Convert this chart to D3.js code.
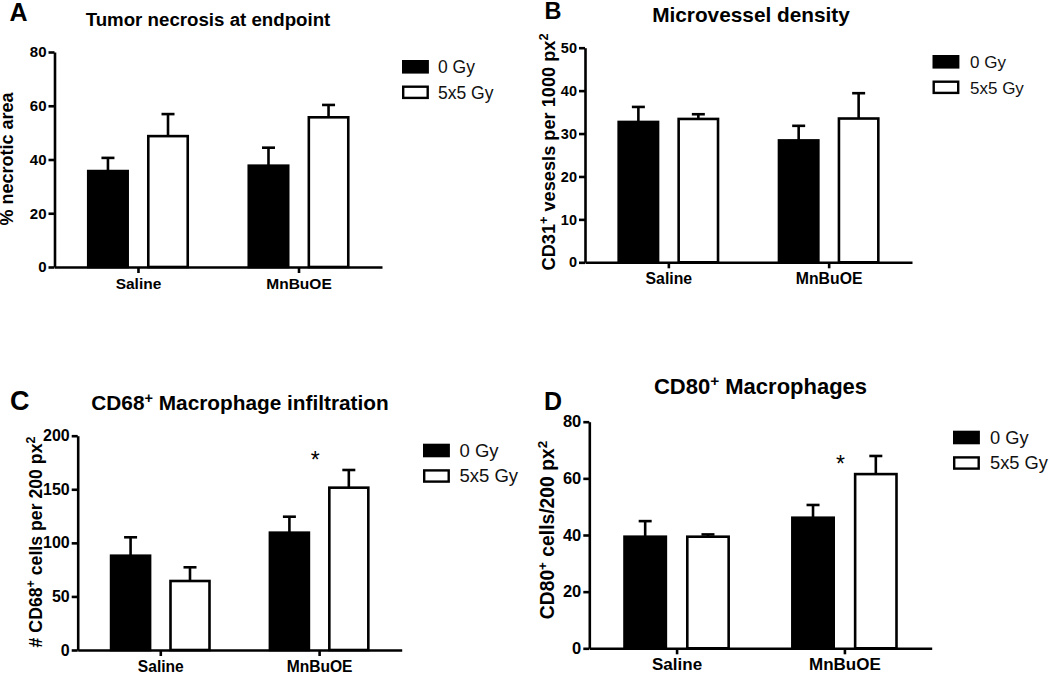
<!DOCTYPE html>
<html>
<head>
<meta charset="utf-8">
<script src="https://cdn.jsdelivr.net/npm/d3@7"></script>
<style>
  html, body { margin: 0; padding: 0; background: #fff; }
  svg { display: block; font-family: "Liberation Sans", Arial, sans-serif; }
</style>
</head>
<body>
<svg id="chart" width="1050" height="673"></svg>
<script>
// ---- Data ----
const groups = ["Saline", "MnBuOE"];
const series = ["0 Gy", "5x5 Gy"];

// Panel A: Tumor necrosis at endpoint (% necrotic area)
const necrosisMean0Gy = [35.7, 37.7];
const necrosisErr0Gy = [4.9, 6.7];
const necrosisMean5x5 = [48.7, 55.7];
const necrosisErr5x5 = [8.2, 4.6];
const necrosisTicks = [0, 20, 40, 60, 80];

// Panel B: Microvessel density
const vesselMean0Gy = [32.7, 28.4];
const vesselErr0Gy = [3.5, 3.4];
const vesselMean5x5 = [33.4, 33.5];
const vesselErr5x5 = [1.1, 5.9];
const vesselTicks = [0, 10, 20, 30, 40, 50];

// Panel C: CD68+ macrophage infiltration
const cd68Mean0Gy = [88, 109.5];
const cd68Err0Gy = [17.2, 14.9];
const cd68Mean5x5 = [64.4, 151.5];
const cd68Err5x5 = [12.8, 16.5];
const cd68Ticks = [0, 50, 100, 150, 200];
const cd68Star = [{ group: "MnBuOE", value: 182 }];

// Panel D: CD80+ macrophages
const cd80Mean0Gy = [39.4, 46.1];
const cd80Err0Gy = [5.5, 4.5];
const cd80Mean5x5 = [39.4, 61.5];
const cd80Err5x5 = [0.8, 6.4];
const cd80Ticks = [0, 20, 40, 60, 80];
const cd80Star = [{ group: "MnBuOE", value: 67 }];

function rows(m0, e0, m5, e5) {
  const out = [];
  groups.forEach((g, i) => {
    out.push({ group: g, series: series[0], mean: m0[i], err: e0[i] });
    out.push({ group: g, series: series[1], mean: m5[i], err: e5[i] });
  });
  return out;
}

const panels = [
  {
    letter: "A", letterX: 9.5, letterY: 20.5, letterSize: 25,
    title: [{ t: "Tumor necrosis at endpoint" }], titleX: 208, titleY: 26, titleSize: 18.7,
    ylabel: [{ t: "% necrotic area" }], ylabelX: 13, ylabelY: 159, ylabelSize: 18,
    tickSize: 15, xlabSize: 15.5, legendSize: 17.5,
    left: 54.5, right: 382, top: 52, bottom: 267,
    ticks: necrosisTicks, data: rows(necrosisMean0Gy, necrosisErr0Gy, necrosisMean5x5, necrosisErr5x5),
    legendX: 402, legendY: 60, legendTextX: 438, stars: []
  },
  {
    letter: "B", letterX: 544.5, letterY: 18.5, letterSize: 23.5,
    title: [{ t: "Microvessel density" }], titleX: 751, titleY: 21.5, titleSize: 20.8,
    ylabel: [{ t: "CD31" }, { t: "+", sup: true }, { t: " vesesls per 1000 px" }, { t: "2", sup: true }],
    ylabelX: 554.5, ylabelY: 152, ylabelSize: 18.2,
    tickSize: 14.5, xlabSize: 15.8, legendSize: 17,
    left: 585, right: 912, top: 47.7, bottom: 262.3,
    ticks: vesselTicks, data: rows(vesselMean0Gy, vesselErr0Gy, vesselMean5x5, vesselErr5x5),
    legendX: 932.5, legendY: 55, legendTextX: 970, stars: []
  },
  {
    letter: "C", letterX: 10, letterY: 410, letterSize: 27,
    title: [{ t: "CD68" }, { t: "+", sup: true }, { t: " Macrophage infiltration" }], titleX: 240, titleY: 410, titleSize: 20.8,
    ylabel: [{ t: "# CD68" }, { t: "+", sup: true }, { t: " cells per 200 px" }, { t: "2", sup: true }],
    ylabelX: 41.5, ylabelY: 542, ylabelSize: 17.7,
    tickSize: 16, xlabSize: 15.6, legendSize: 18.5,
    left: 77.7, right: 401.7, top: 435.7, bottom: 650,
    ticks: cd68Ticks, data: rows(cd68Mean0Gy, cd68Err0Gy, cd68Mean5x5, cd68Err5x5),
    legendX: 423, legendY: 443.7, legendTextX: 459.5, stars: cd68Star
  },
  {
    letter: "D", letterX: 544, letterY: 410, letterSize: 25,
    title: [{ t: "CD80" }, { t: "+", sup: true }, { t: " Macrophages" }], titleX: 760.5, titleY: 394, titleSize: 22,
    ylabel: [{ t: "CD80" }, { t: "+", sup: true }, { t: " cells/200 px" }, { t: "2", sup: true }],
    ylabelX: 553.5, ylabelY: 530, ylabelSize: 19.3,
    tickSize: 16.5, xlabSize: 17, legendSize: 18.3,
    left: 589.3, right: 931.7, top: 421.7, bottom: 648.3,
    ticks: cd80Ticks, data: rows(cd80Mean0Gy, cd80Err0Gy, cd80Mean5x5, cd80Err5x5),
    legendX: 953, legendY: 430.7, legendTextX: 990, stars: cd80Star
  }
];

const svg = d3.select("#chart");
const SW = 2.6;
const FONT = "Liberation Sans, Arial, sans-serif";

function addRich(textSel, parts) {
  parts.forEach((p, i) => {
    const prevSup = i > 0 && parts[i - 1].sup;
    const ts = textSel.append("tspan").text(p.t);
    if (p.sup) ts.attr("dy", "-0.5em").attr("font-size", "70%");
    else if (prevSup) ts.attr("dy", "0.35em");
  });
}

panels.forEach(p => {
  const g = svg.append("g");
  const y = d3.scaleLinear().domain([0, d3.max(p.ticks)]).range([p.bottom, p.top]);
  const x = d3.scalePoint().domain(groups).range([p.left, p.right]).padding(0.52);
  const step = x.step();
  const xi = d3.scaleBand().domain(series).range([-0.318 * step, 0.318 * step]).paddingInner(0.3);

  // Y axis
  const ya = g.append("g").attr("transform", `translate(${p.left},0)`)
    .call(d3.axisLeft(y).tickValues(p.ticks).tickSize(6).tickSizeOuter(0).tickPadding(2));
  ya.select(".domain").attr("stroke", "#000").attr("stroke-width", SW);
  ya.selectAll(".tick line").attr("stroke", "#000").attr("stroke-width", SW);
  ya.selectAll(".tick text").attr("font-size", p.tickSize).attr("font-weight", "bold")
    .attr("fill", "#000").attr("font-family", FONT);

  // Bars
  const bw = xi.bandwidth();
  g.selectAll("rect.bar").data(p.data).enter().append("rect")
    .attr("class", "bar")
    .attr("x", d => x(d.group) + xi(d.series) + SW / 2)
    .attr("width", bw - SW)
    .attr("y", d => y(d.mean))
    .attr("height", d => p.bottom - y(d.mean))
    .attr("fill", d => d.series === series[0] ? "#000" : "#fff")
    .attr("stroke", "#000").attr("stroke-width", SW);

  // Error bars (upper only)
  const cx = d => x(d.group) + xi(d.series) + bw / 2;
  g.selectAll("line.err").data(p.data).enter().append("line")
    .attr("x1", cx).attr("x2", cx)
    .attr("y1", d => y(d.mean)).attr("y2", d => y(d.mean + d.err))
    .attr("stroke", "#000").attr("stroke-width", SW);
  g.selectAll("line.cap").data(p.data).enter().append("line")
    .attr("x1", d => cx(d) - 6.5).attr("x2", d => cx(d) + 6.5)
    .attr("y1", d => y(d.mean + d.err)).attr("y2", d => y(d.mean + d.err))
    .attr("stroke", "#000").attr("stroke-width", SW);

  // X axis
  const xa = g.append("g").attr("transform", `translate(0,${p.bottom})`)
    .call(d3.axisBottom(x).tickSize(6).tickSizeOuter(0));
  xa.select(".domain").attr("stroke", "#000").attr("stroke-width", SW);
  xa.selectAll(".tick line").attr("stroke", "#000").attr("stroke-width", SW);
  xa.selectAll(".tick text").attr("font-size", p.xlabSize).attr("font-weight", "bold")
    .attr("fill", "#000").attr("y", 22).attr("dy", 0)
    .attr("font-family", FONT);

  // Stars
  g.selectAll("text.star").data(p.stars).enter().append("text")
    .attr("x", d => x(d.group) - 4)
    .attr("y", d => y(d.value) + 13)
    .attr("text-anchor", "middle").attr("font-size", 23).attr("fill", "#000")
    .text("*");

  // Title
  const tt = g.append("text").attr("x", p.titleX).attr("y", p.titleY)
    .attr("text-anchor", "middle").attr("font-size", p.titleSize).attr("font-weight", "bold").attr("fill", "#000");
  addRich(tt, p.title);

  // Panel letter
  g.append("text").attr("x", p.letterX).attr("y", p.letterY)
    .attr("font-size", p.letterSize).attr("font-weight", "bold").attr("fill", "#000").text(p.letter);

  // Y label
  const yl = g.append("text")
    .attr("transform", `translate(${p.ylabelX},${p.ylabelY}) rotate(-90)`)
    .attr("text-anchor", "middle").attr("font-size", p.ylabelSize).attr("font-weight", "bold").attr("fill", "#000");
  addRich(yl, p.ylabel);

  // Legend
  const lg = g.append("g");
  series.forEach((s, i) => {
    const ly = p.legendY + i * 25.5;
    lg.append("rect").attr("x", p.legendX + 1.2).attr("y", ly + 1.2)
      .attr("width", 24.5).attr("height", 11.2)
      .attr("fill", i === 0 ? "#000" : "#fff").attr("stroke", "#000").attr("stroke-width", 2.4);
    lg.append("text").attr("x", p.legendTextX).attr("y", ly + 13)
      .attr("font-size", p.legendSize).attr("fill", "#111").text(s);
  });
});
</script>
</body>
</html>
